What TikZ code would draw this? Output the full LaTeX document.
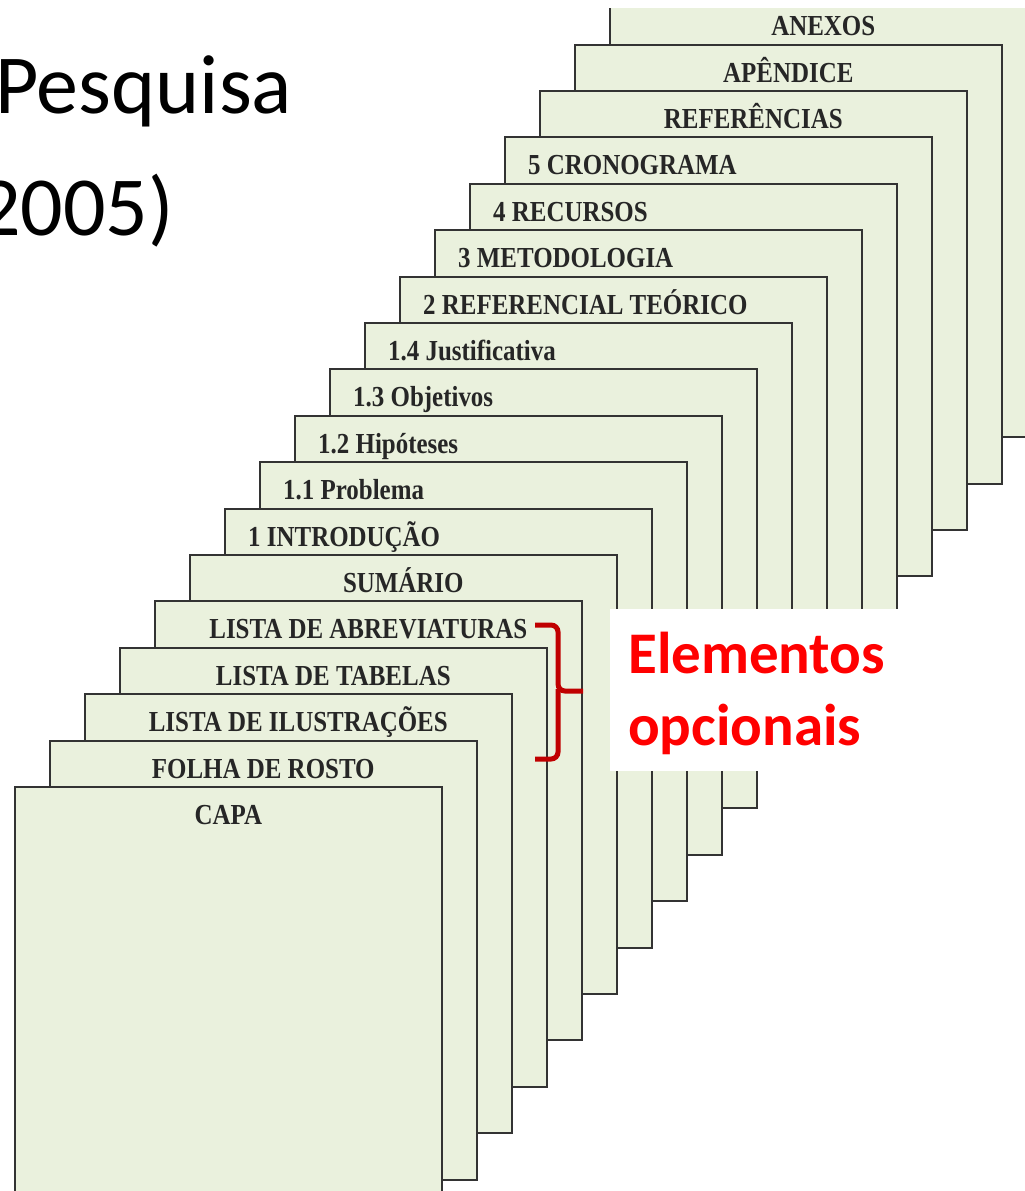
\documentclass[tikz,border=0pt]{standalone}
\usepackage{fontspec}
\setmainfont{Liberation Serif}
\newfontfamily\slidefont{Carlito}
\newfontfamily\sheetfont{Liberation Serif}[FakeStretch=0.86]
\definecolor{sheetgreen}{HTML}{EAF1DD}
\definecolor{edgegray}{HTML}{333333}
\definecolor{bracered}{HTML}{C00000}
\definecolor{notered}{HTML}{FF0000}
\tikzset{
  sheet/.style={draw=edgegray, line width=1.6pt, fill=sheetgreen, anchor=north west,
    minimum width=427pt, minimum height=439pt, inner sep=0pt},
  sheetname/.style={font=\sheetfont\bfseries\fontsize{29}{30}\selectfont, text=black!85,
    inner sep=0pt, anchor=base},
  chaptername/.style={sheetname, anchor=base west},
  slidetitle/.style={font=\slidefont\fontsize{84}{100}\selectfont, inner sep=0pt, anchor=base west},
  notetext/.style={font=\slidefont\bfseries\fontsize{59}{70}\selectfont, text=notered,
    inner sep=0pt, anchor=base west},
  brace/.style={draw=bracered, line width=5pt, rounded corners=7pt}
}

\begin{document}
\begin{tikzpicture}[x=1pt, y=-1pt]
    \useasboundingbox (0,0) rectangle (1025,1191);

    % Slide title (cut at the left)
    \node (titlea) [slidetitle] at (-5,113) {Pesquisa};
    \node (titleb) [slidetitle] at (-22,235) {2005)};

    \begin{scope}
    \clip (0,8) rectangle (1025,1191);
    % Sheets, back to front
    \node (anexos) [sheet] at (609,-3) {};
    \node (anexost) [sheetname] at ([yshift=-38pt]anexos.north) {ANEXOS};
    \node (apend) [sheet] at (574,44) {};
    \node (apendt) [sheetname] at ([yshift=-38pt]apend.north) {APÊNDICE};
    \node (refs) [sheet] at (539,90) {};
    \node (refst) [sheetname] at ([yshift=-38pt]refs.north) {REFERÊNCIAS};
    \node (crono) [sheet] at (504,136) {};
    \node (cronot) [chaptername] at ([xshift=24pt,yshift=-38pt]crono.north west) {5 CRONOGRAMA};
    \node (recur) [sheet] at (469,183) {};
    \node (recurt) [chaptername] at ([xshift=24pt,yshift=-38pt]recur.north west) {4 RECURSOS};
    \node (metod) [sheet] at (434,229) {};
    \node (metodt) [chaptername] at ([xshift=24pt,yshift=-38pt]metod.north west) {3 METODOLOGIA};
    \node (refteo) [sheet] at (399,276) {};
    \node (refteot) [chaptername] at ([xshift=24pt,yshift=-38pt]refteo.north west) {2 REFERENCIAL TEÓRICO};
    \node (justif) [sheet] at (364,322) {};
    \node (justift) [chaptername] at ([xshift=24pt,yshift=-38pt]justif.north west) {1.4 Justificativa};
    \node (objet) [sheet] at (329,368) {};
    \node (objett) [chaptername] at ([xshift=24pt,yshift=-38pt]objet.north west) {1.3 Objetivos};
    \node (hipot) [sheet] at (294,415) {};
    \node (hipott) [chaptername] at ([xshift=24pt,yshift=-38pt]hipot.north west) {1.2 Hipóteses};
    \node (probl) [sheet] at (259,461) {};
    \node (problt) [chaptername] at ([xshift=24pt,yshift=-38pt]probl.north west) {1.1 Problema};
    \node (intro) [sheet] at (224,508) {};
    \node (introt) [chaptername] at ([xshift=24pt,yshift=-38pt]intro.north west) {1 INTRODUÇÃO};
    \node (sumar) [sheet] at (189,554) {};
    \node (sumart) [sheetname] at ([yshift=-38pt]sumar.north) {SUMÁRIO};
    \node (abrev) [sheet] at (154,600) {};
    \node (abrevt) [sheetname] at ([yshift=-38pt]abrev.north) {LISTA DE ABREVIATURAS};
    \node (tabel) [sheet] at (119,647) {};
    \node (tabelt) [sheetname] at ([yshift=-38pt]tabel.north) {LISTA DE TABELAS};
    \node (ilust) [sheet] at (84,693) {};
    \node (ilustt) [sheetname] at ([yshift=-38pt]ilust.north) {LISTA DE ILUSTRAÇÕES};
    \node (folha) [sheet] at (49,740) {};
    \node (folhat) [sheetname] at ([yshift=-38pt]folha.north) {FOLHA DE ROSTO};
    \node (capa) [sheet] at (14,786) {};
    \node (capat) [sheetname] at ([yshift=-38pt]capa.north) {CAPA};
    \end{scope}

    % Optional elements note
    \node (notebox) [fill=white, anchor=north west, minimum width=288pt, minimum height=162pt,
      inner sep=0pt] at (610,609) {};
    \node (notea) [notetext] at (628,673) {Elementos};
    \node (noteb) [notetext] at ([yshift=-72pt]notea.base west) {opcionais};

    % Brace over the three lists
    \draw[brace] (535,625) -- (558,625) -- (558,691) -- (583,691);
    \draw[brace] (558,689) -- (558,759) -- (535,759);
\end{tikzpicture}
\end{document}
